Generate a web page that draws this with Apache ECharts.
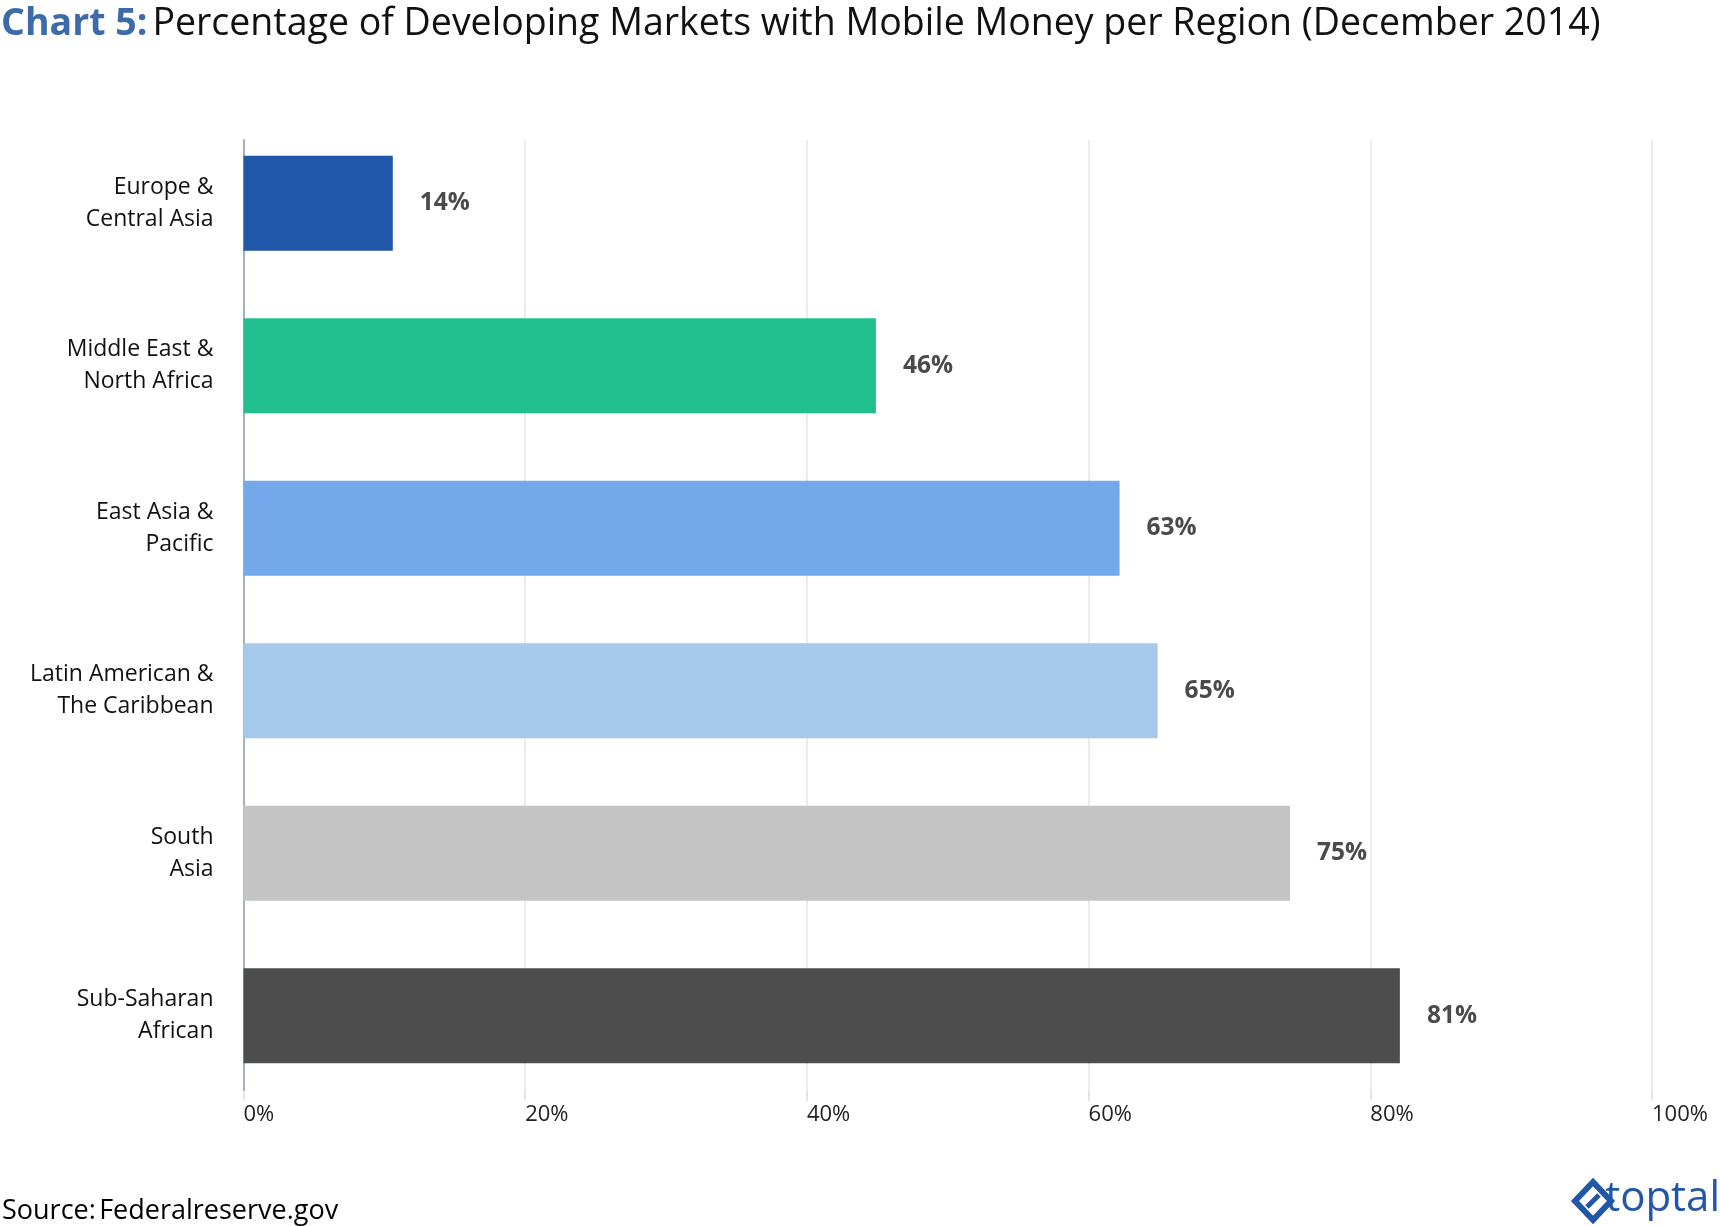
<!DOCTYPE html>
<html>
<head>
<meta charset="utf-8">
<script src="https://cdn.jsdelivr.net/npm/echarts@6/dist/echarts.min.js"></script>
<style>
    html, body { margin: 0; padding: 0; background: #fff; }
    #main { width: 1720px; height: 1226px; }
</style>
</head>
<body>
<div id="main"></div>
<script>
// regions, top to bottom
var regions = ['Europe &\nCentral Asia', 'Middle East &\nNorth Africa', 'East Asia &\nPacific',
    'Latin American &\nThe Caribbean', 'South\nAsia', 'Sub-Saharan\nAfrican'];
// bar lengths as drawn (percent)
var barValues = [10.6, 44.9, 62.2, 64.9, 74.3, 82.1];
// printed labels
var valueLabels = ['14%', '46%', '63%', '65%', '75%', '81%'];
var barColors = ['#2157a8', '#22bf8e', '#73a9eb', '#a6c9eb', '#c4c4c4', '#4d4d4d'];
var xTicks = [0, 20, 40, 60, 80, 100];

var fontName = '"Open Sans", Lato, sans-serif';
var myChart = echarts.init(document.getElementById('main'));

var option = {
    backgroundColor: '#fff',
    animation: false,
    title: {
        left: -4,
        top: 0,
        text: '{b|Chart 5:} {n|Percentage of Developing Markets with Mobile Money per Region (December 2014)}',
        textStyle: {
            fontWeight: 'normal',
            rich: {
                b: { fontFamily: fontName, fontWeight: 'bold', fontSize: 37.5, color: '#3d6aa9' },
                n: { fontFamily: fontName, fontWeight: 'normal', fontSize: 37.5, color: '#111' }
            }
        }
    },
    // grid 0 holds the bars, grid 1 the grid lines / axis line
    grid: [
        { left: 243.5, right: 68, top: 122, bottom: 129 },
        { left: 243.5, right: 68, top: 140, bottom: 135 }
    ],
    xAxis: [{
        gridIndex: 0,
        type: 'value',
        min: 0,
        max: 100,
        show: false
    }, {
        gridIndex: 1,
        type: 'value',
        min: 0,
        max: 100,
        interval: 20,
        axisLine: { show: false },
        axisTick: { show: true, length: 10, lineStyle: { color: '#e6e6e6', width: 2 } },
        splitLine: { lineStyle: { color: '#ebebeb', width: 2 } },
        axisLabel: {
            align: 'left',
            margin: 13,
            fontFamily: fontName,
            fontSize: 22,
            color: '#222',
            formatter: function (v) { return xTicks.indexOf(v) >= 0 ? v + '%' : ''; }
        }
    }],
    yAxis: [{
        gridIndex: 0,
        type: 'category',
        inverse: true,
        data: regions,
        axisLine: { show: false },
        axisTick: { alignWithLabel: true, length: 9, lineStyle: { color: '#a3b0c2', width: 2 } },
        axisLabel: {
            margin: 30,
            padding: [6, 0, 0, 0],
            fontFamily: fontName,
            fontSize: 23,
            lineHeight: 32,
            color: '#111',
            align: 'right'
        }
    }, {
        gridIndex: 1,
        type: 'category',
        data: regions,
        axisLine: { lineStyle: { color: '#a3b0c2', width: 2 } },
        axisTick: { show: false },
        axisLabel: { show: false }
    }],
    series: [{
        type: 'bar',
        xAxisIndex: 0,
        yAxisIndex: 0,
        data: barValues.map(function (v, i) {
            return { value: v, itemStyle: { color: barColors[i] } };
        }),
        barWidth: 95,
        label: {
            show: true,
            position: 'right',
            distance: 27,
            fontFamily: fontName,
            fontWeight: 'bold',
            fontSize: 24.5,
            color: '#4a4a4a',
            formatter: function (p) { return valueLabels[p.dataIndex]; }
        }
    }],
    graphic: [
        {
            type: 'text',
            left: 2,
            top: 1198,
            style: {
                text: '{g|Source:} {k|Federalreserve.gov}',
                rich: {
                    g: { fontFamily: fontName, fontSize: 27, color: '#666' },
                    k: { fontFamily: fontName, fontSize: 27, color: '#111' }
                }
            }
        },
        {
            // toptal mark, rough
            type: 'polygon',
            shape: { points: [[1593, 1182], [1611, 1201], [1593, 1220], [1575, 1201]] },
            style: { stroke: '#2157a8', lineWidth: 6, fill: null, lineJoin: 'miter' }
        },
        {
            type: 'line',
            shape: { x1: 1599, y1: 1195, x2: 1587, y2: 1207 },
            style: { stroke: '#2157a8', lineWidth: 5 }
        },
        {
            type: 'text',
            right: 0,
            top: 1178,
            style: {
                text: 'toptal',
                fontFamily: fontName,
                fontSize: 42,
                fill: '#2157a8'
            }
        }
    ]
};

myChart.setOption(option);
</script>
</body>
</html>
